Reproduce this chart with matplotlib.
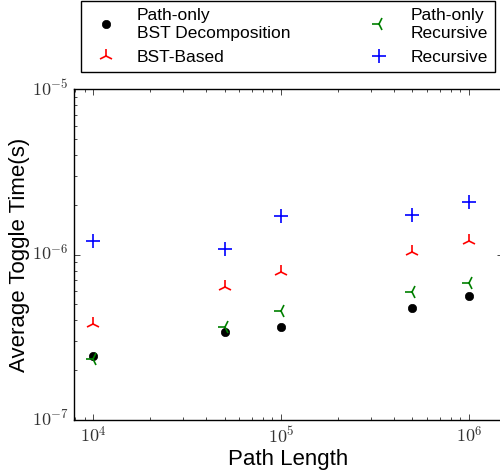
import math
import matplotlib
matplotlib.use("Agg")
import matplotlib.pyplot as plt
from matplotlib.ticker import FuncFormatter

plt.style.use("classic")
plt.rcParams["mathtext.fontset"] = "cm"
plt.rcParams["font.family"] = ["Liberation Sans", "DejaVu Sans"]

# Data
path_length = [1e4, 5e4, 1e5, 5e5, 1e6]
path_only_bst = [2.43e-7, 3.40e-7, 3.64e-7, 4.77e-7, 5.65e-7]
bst_based = [3.81e-7, 6.34e-7, 7.82e-7, 1.04e-6, 1.21e-6]
path_only_rec = [2.34e-7, 3.67e-7, 4.59e-7, 5.97e-7, 6.71e-7]
recursive = [1.20e-6, 1.08e-6, 1.72e-6, 1.74e-6, 2.09e-6]

fig = plt.figure(figsize=(5, 4.71), dpi=100, facecolor="white")
ax = fig.add_axes([0.148, 0.108, 0.858, 0.703])

ax.plot(path_length, path_only_bst, "o", color="black", markersize=6, mec="black",
        label="Path-only\nBST Decomposition")
ax.plot(path_length, bst_based, "2", color="red", markersize=10, mew=1.2,
        label="BST-Based")
ax.plot(path_length, path_only_rec, "3", color="green", markersize=10, mew=1.2,
        label="Path-only\nRecursive")
ax.plot(path_length, recursive, "+", color="blue", markersize=10, mew=1.2,
        label="Recursive")

ax.set_xscale("log")
ax.set_yscale("log")
ax.set_xlim(7.9e3, 1.52e6)
ax.set_ylim(1e-7, 1e-5)


def exp_fmt(v, pos):
    return r"$10^{%d}$" % int(round(math.log10(v)))


ax.xaxis.set_major_formatter(FuncFormatter(exp_fmt))
ax.yaxis.set_major_formatter(FuncFormatter(exp_fmt))
ax.set_xlabel("Path Length", fontsize=16, labelpad=2)
ax.set_ylabel("Average Toggle Time(s)", fontsize=16, labelpad=1)
ax.tick_params(labelsize=13)
for lbl in ax.get_xticklabels() + ax.get_yticklabels():
    lbl.set_color("#333333")

fig.legend(loc="upper center", bbox_to_anchor=(0.576, 0.997), ncol=2,
           numpoints=1, fontsize=12.5, frameon=True, fancybox=False,
           borderaxespad=0, columnspacing=4.1, handletextpad=0.8)

fig.savefig("out.png", dpi=100, facecolor="white")
